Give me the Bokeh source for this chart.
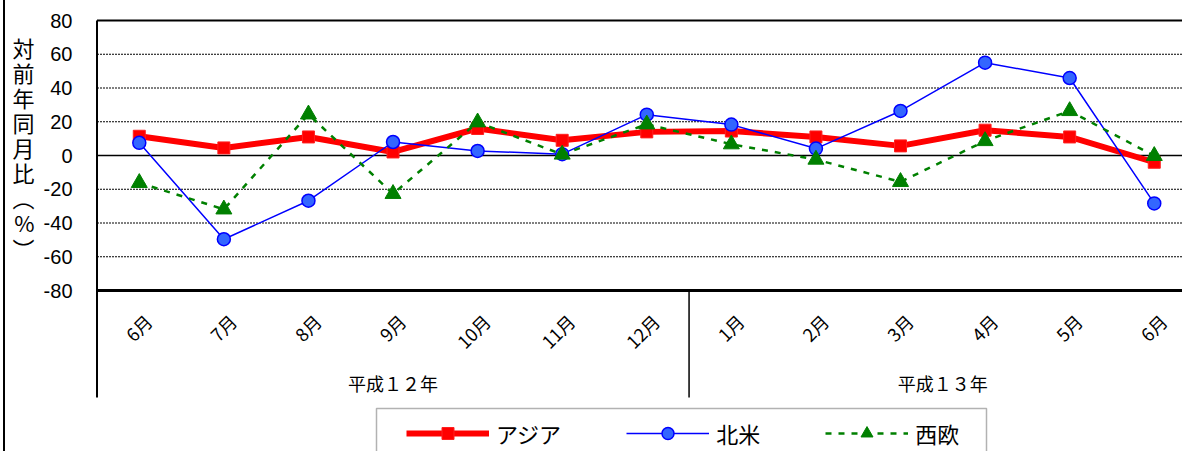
import math
from bokeh.plotting import figure
from bokeh.models import Range1d, FixedTicker, Legend, LegendItem, BoxAnnotation
from bokeh.core.properties import value
from bokeh.embed import file_html
from bokeh.resources import INLINE

# ---------------- data ----------------
months = ["6月", "7月", "8月", "9月", "10月", "11月", "12月",
          "1月", "2月", "3月", "4月", "5月", "6月"]
years = ["平成１２年", "平成１３年"]
year_counts = [7, 6]
asia = [11.4, 4.5, 11, 2.1, 16, 9, 14, 14.5, 11, 5.7, 15, 11, -4]
north_america = [7.5, -49.6, -26.8, 8, 2.7, 0.8, 24.2, 18.3, 4.1, 26.4, 55, 45.9, -28.4]
west_europe = [-16.2, -31.9, 24.4, -22.7, 19.7, 0.6, 18.5, 6.7, -2.4, -15.6, 8.6, 26.4, -0.2]
series_names = ["アジア", "北米", "西欧"]
y_ticks = [-80, -60, -40, -20, 0, 20, 40, 60, 80]
y_title_chars = ["対", "前", "年", "同", "月", "比", "︵", "%", "︶"]

# ---------------- geometry helpers (canvas px -> data) ----------------
PX_X = 84.58
PX_Y = 1.6875
def dx(px):
    return 0.5 + (px - 96.5) / PX_X
def dy(py):
    return 80 - (py - 20) / PX_Y

W, H = 1182, 451
FL, FT = 94, 18

xs = list(range(1, len(months) + 1))

p = figure(width=W, height=H, output_backend="svg", toolbar_location=None,
           x_range=Range1d(dx(FL), dx(W)), y_range=Range1d(dy(H), dy(FT)),
           x_axis_location=None, min_border_left=FL, min_border_right=0,
           min_border_top=FT, min_border_bottom=0,
           background_fill_color="white", border_fill_color=None,
           styles={"box-shadow": "inset 3px 0 0 0 white, inset 5px 0 0 0 black",
                   "background-color": "white"})
p.outline_line_color = None
p.xgrid.visible = False
p.ygrid.visible = False

# y axis
ax = p.yaxis[0]
ax.ticker = FixedTicker(ticks=y_ticks)
ax.major_label_overrides = {t: str(t) for t in y_ticks}
ax.axis_line_color = None
ax.major_tick_line_color = None
ax.minor_tick_line_color = None
ax.major_tick_out = 0
ax.major_tick_in = 0
ax.minor_tick_out = 0
ax.major_label_standoff = 22
ax.major_label_text_font = "Liberation Sans"
ax.major_label_text_font_size = "20px"
ax.major_label_text_color = "black"
# stacked vertical title; trailing empty lines lift it to the upper part of the panel
ax.axis_label = "\n".join(y_title_chars) + "\n" * 7
ax.axis_label_orientation = "horizontal"
ax.axis_label_text_align = "center"
ax.axis_label_text_font = "Noto Sans CJK JP"
ax.axis_label_text_font_size = "22px"
ax.axis_label_text_font_style = "normal"
ax.axis_label_text_line_height = 0.784
ax.axis_label_text_color = "black"
ax.axis_label_standoff = 6

# horizontal lines
dashed = [t for t in y_ticks if t not in (-80, 0, 80)]
p.segment(x0=[0.5] * len(dashed), x1=[14] * len(dashed), y0=dashed, y1=dashed,
          line_color="black", line_width=1, line_dash="2 1")
p.segment(x0=[0.5], x1=[14], y0=[0], y1=[0], line_color="black", line_width=1.6)
p.segment(x0=[0.5], x1=[14], y0=[80], y1=[80], line_color="black", line_width=2)
p.segment(x0=[0.5], x1=[14], y0=[-80], y1=[-80], line_color="black", line_width=3)

# vertical boundaries (plot left edge and year separators)
bounds = [0.5]
for c in year_counts:
    bounds.append(bounds[-1] + c)
p.segment(x0=[bounds[0]], x1=[bounds[0]], y0=[80], y1=[dy(397)], line_color="black", line_width=2)
p.segment(x0=bounds[1:], x1=bounds[1:], y0=[-80] * (len(bounds) - 1),
          y1=[dy(397)] * (len(bounds) - 1), line_color="black", line_width=1.5)

# category labels
p.text(x=[x + 9 / PX_X for x in xs], y=[dy(317)] * len(xs), text=months,
       angle=math.pi / 4, text_align="right", text_baseline="middle",
       text_font=value("Noto Sans CJK JP"), text_font_size="18px", text_color="black")
centers = [(bounds[i] + bounds[i + 1]) / 2 for i in range(len(year_counts))]
p.text(x=centers, y=[dy(382)] * len(centers), text=years, text_align="center",
       text_baseline="middle", text_font=value("Noto Sans CJK JP"),
       text_font_size="18px", text_color="black")

# series
r1l = p.line(xs, asia, line_color="#FF0000", line_width=6)
r1m = p.scatter(xs, asia, marker="square", size=12, fill_color="#FF0000", line_color="#FF2020")
r2l = p.line(xs, north_america, line_color="#0000FF", line_width=1.5)
r2m = p.scatter(xs, north_america, marker="circle", size=13, fill_color="#3366FF",
                line_color="#0000FF", line_width=1.5)
r3l = p.line(xs, west_europe, line_color="#008000", line_width=2.5, line_dash="6 7")
r3m = p.scatter(xs, west_europe, marker="triangle", size=16, fill_color="#008000",
                line_color="#008000")

# legend
p.add_layout(BoxAnnotation(left=dx(376), right=dx(986), top=dy(408), bottom=dy(480),
                           fill_color=None, fill_alpha=0, line_color="black", line_width=1.5))
legend = Legend(items=[LegendItem(label=series_names[0], renderers=[r1l, r1m]),
                       LegendItem(label=series_names[1], renderers=[r2l, r2m]),
                       LegendItem(label=series_names[2], renderers=[r3l, r3m])],
                orientation="horizontal", location=(312, 2), margin=0, padding=0,
                spacing=65, label_standoff=7, glyph_width=83, glyph_height=30,
                label_height=30, label_text_font="Noto Sans CJK JP",
                label_text_font_size="22px", label_text_color="black",
                border_line_color=None, background_fill_alpha=0)
p.add_layout(legend)

open("out.html", "w").write(file_html(p, INLINE))
